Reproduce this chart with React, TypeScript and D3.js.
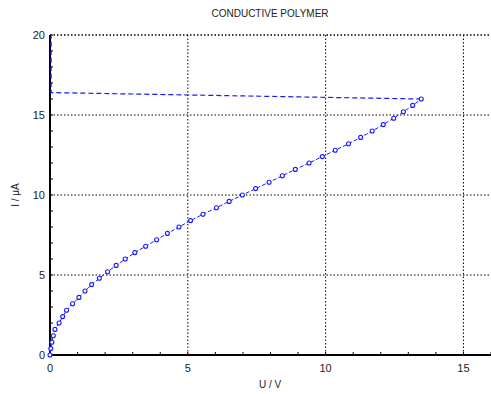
import React from "react";
import * as d3 from "d3";

const title = "CONDUCTIVE POLYMER";
const xLabel = "U / V";
const yLabel = "I / \u03bcA";

// sweep: current I (µA) and voltage U (V)
const currentI = [
  0, 0.4, 0.8, 1.2, 1.6, 2.0, 2.4, 2.8, 3.2, 3.6, 4.0, 4.4, 4.8, 5.2, 5.6, 6.0,
  6.4, 6.8, 7.2, 7.6, 8.0, 8.4, 8.8, 9.2, 9.6, 10.0, 10.4, 10.8, 11.2, 11.6,
  12.0, 12.4, 12.8, 13.2, 13.6, 14.0, 14.4, 14.8, 15.2, 15.6, 16.0,
];
const voltageU = [
  0.0, 0.03, 0.07, 0.12, 0.18, 0.33, 0.46, 0.6, 0.82, 1.05, 1.27, 1.51, 1.79,
  2.09, 2.4, 2.73, 3.08, 3.47, 3.87, 4.26, 4.68, 5.1, 5.55, 6.04, 6.5, 6.98,
  7.46, 7.95, 8.43, 8.9, 9.4, 9.88, 10.35, 10.83, 11.27, 11.69, 12.09, 12.47,
  12.82, 13.16, 13.47,
];
// breakdown: return segment
const returnU = [13.47, 0.04, 0.04];
const returnI = [16.0, 16.4, 20.0];

const xTicks = [0, 5, 10, 15];
const yTicks = [0, 5, 10, 15, 20];
const xMinor = d3.range(0, 16.01, 1);
const yMinor = d3.range(0, 20.01, 1);

const W = 491;
const H = 394;
const left = 50;
const right = 491;
const top = 35;
const bottom = 355;
const font = "Liberation Sans, Arial, sans-serif";
const blue = "#1a1aff";

export default function App() {
  const x = d3.scaleLinear().domain([0, 16]).range([left, right]);
  const y = d3.scaleLinear().domain([0, 20]).range([bottom, top]);
  const pts = voltageU.map((u, i) => [u, currentI[i]] as [number, number]);
  const ret = returnU.map((u, i) => [u, returnI[i]] as [number, number]);
  const line = d3
    .line<[number, number]>()
    .x((d) => x(d[0]))
    .y((d) => y(d[1]));

  return (
    <svg
      width={W}
      height={H}
      style={{ position: "absolute", left: 0, top: 0, background: "#fff" }}
      fontFamily={font}
    >
      <rect x={0} y={0} width={W} height={H} fill="#fff" />
      {/* grid */}
      {xTicks.filter((t) => t > 0).map((t) => (
        <line key={"gx" + t} x1={x(t)} x2={x(t)} y1={top} y2={bottom} stroke="#000" strokeWidth={1} strokeDasharray="1.5,2" />
      ))}
      {yTicks.filter((t) => t > 0).map((t) => (
        <line key={"gy" + t} x1={left} x2={right} y1={y(t)} y2={y(t)} stroke="#000" strokeWidth={t === 20 ? 1.5 : 1} strokeDasharray="1.5,2" />
      ))}
      {/* axes */}
      <line x1={left} x2={left} y1={top} y2={bottom + 1} stroke="#000" strokeWidth={2} />
      <line x1={left - 1} x2={right} y1={bottom} y2={bottom} stroke="#000" strokeWidth={2} />
      {xMinor.map((t) => (
        <line key={"mx" + t} x1={x(t)} x2={x(t)} y1={bottom} y2={bottom - 3} stroke="#000" strokeWidth={1} />
      ))}
      {yMinor.map((t) => (
        <line key={"my" + t} x1={left} x2={left + 3} y1={y(t)} y2={y(t)} stroke="#000" strokeWidth={1} />
      ))}
      {/* data */}
      <path d={line(ret) || ""} fill="none" stroke={blue} strokeWidth={1.2} strokeDasharray="5,3" />
      <path d={line(pts) || ""} fill="none" stroke={blue} strokeWidth={1} strokeDasharray="4,2" />
      {pts.map((d, i) => (
        <circle key={"p" + i} cx={x(d[0])} cy={y(d[1])} r={2} fill="#fff" stroke={blue} strokeWidth={1.1} />
      ))}
      {/* tick labels */}
      {xTicks.map((t) => (
        <text key={"tx" + t} x={x(t)} y={372} fontSize={11} textAnchor="middle" fill="#222">
          {t}
        </text>
      ))}
      {yTicks.map((t) => (
        <text key={"ty" + t} x={45} y={y(t) + 4} fontSize={11} textAnchor="end" fill="#222">
          {t}
        </text>
      ))}
      <text x={270} y={17} fontSize={10} textAnchor="middle" fill="#222">
        {title}
      </text>
      <text x={270} y={388} fontSize={10} textAnchor="middle" fill="#222">
        {xLabel}
      </text>
      <text transform={`translate(19,${(top + bottom) / 2}) rotate(-90)`} fontSize={10} textAnchor="middle" fill="#222">
        {yLabel}
      </text>
    </svg>
  );
}
